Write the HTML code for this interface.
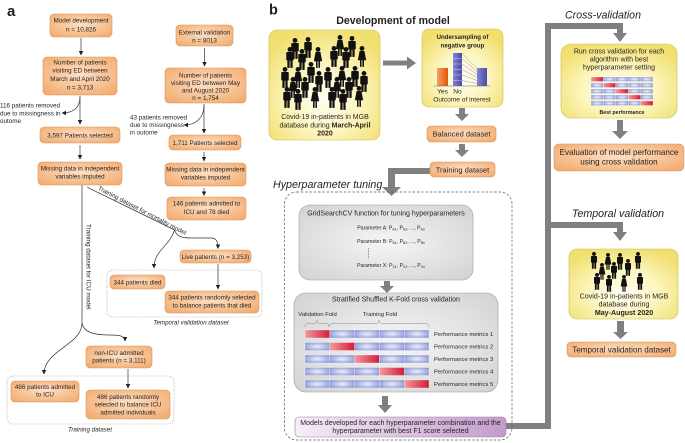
<!DOCTYPE html>
<html><head><meta charset="utf-8"><style>
html,body{margin:0;padding:0;background:#fff;}
svg{display:block;}
text{font-family:"Liberation Sans",Arial,sans-serif;fill:#231f20;}
</style></head><body>
<svg width="685" height="443" viewBox="0 0 685 443" xmlns="http://www.w3.org/2000/svg">
<defs>
<radialGradient id="og" cx="50%" cy="45%" r="65%"><stop offset="0" stop-color="#fde0c4"/><stop offset="1" stop-color="#f3ad72"/></radialGradient>
<radialGradient id="yg" cx="50%" cy="62%" r="65%"><stop offset="0" stop-color="#fffef3"/><stop offset="0.5" stop-color="#fcf5bd"/><stop offset="1" stop-color="#f1df6e"/></radialGradient>
<radialGradient id="gg" cx="50%" cy="50%" r="70%"><stop offset="0" stop-color="#f6f6f6"/><stop offset="1" stop-color="#d2d2d2"/></radialGradient>
<linearGradient id="pg" x1="0" y1="0" x2="1" y2="0"><stop offset="0" stop-color="#f6eef7"/><stop offset="1" stop-color="#c49ccb"/></linearGradient>
<radialGradient id="bl" cx="50%" cy="50%" r="60%"><stop offset="0" stop-color="#eef0fb"/><stop offset="1" stop-color="#8b97d6"/></radialGradient>
<linearGradient id="rd" x1="0" y1="0" x2="1" y2="0"><stop offset="0" stop-color="#f39a9a"/><stop offset="1" stop-color="#d31b3a"/></linearGradient>
<linearGradient id="orb" x1="0" y1="0" x2="1" y2="0"><stop offset="0" stop-color="#f8a060"/><stop offset="1" stop-color="#e2560e"/></linearGradient>
<linearGradient id="blb" x1="0" y1="0" x2="1" y2="0"><stop offset="0" stop-color="#8484d8"/><stop offset="1" stop-color="#4a4aa8"/></linearGradient>
<marker id="ah" viewBox="0 0 10 10" refX="9" refY="5" markerWidth="4.5" markerHeight="4.5" orient="auto" markerUnits="userSpaceOnUse"><path d="M0,0 L10,5 L0,10 z" fill="#231f20"/></marker>
<g id="man"><circle cx="0" cy="2.2" r="2.2"/><path d="M-3.4,5.4 Q-3.4,4.6 -2.6,4.6 H2.6 Q3.4,4.6 3.4,5.4 V12 H2.4 V19 H0.35 V12.5 H-0.35 V19 H-2.4 V12 H-3.4 Z"/></g>
<g id="wom"><circle cx="0" cy="2.2" r="2.2"/><path d="M-2.2,4.6 H2.2 L3.8,13 H1.8 V19 H0.4 V13 H-0.4 V19 H-1.8 V13 H-3.8 Z"/></g>
</defs>

<!-- ================= PANEL A ================= -->
<text x="7" y="16" font-size="15" font-weight="bold">a</text>

<g stroke="#d8955c" stroke-width="0.6" fill="url(#og)">
<rect x="50" y="14" width="62" height="23" rx="4"/>
<rect x="43" y="57" width="74" height="38" rx="4"/>
<rect x="40" y="127" width="80" height="16" rx="4"/>
<rect x="38" y="162" width="84" height="23" rx="4"/>
<rect x="176" y="25" width="57" height="21" rx="4"/>
<rect x="165" y="68" width="81" height="35" rx="4"/>
<rect x="169" y="135" width="72" height="15" rx="4"/>
<rect x="165" y="163" width="81" height="23" rx="4"/>
<rect x="167" y="197" width="79" height="23" rx="4"/>
<rect x="180" y="250" width="71" height="13" rx="4"/>
<rect x="110" y="275" width="55" height="14" rx="4"/>
<rect x="165" y="291" width="94" height="22" rx="4"/>
<rect x="86" y="346" width="66" height="22" rx="4"/>
<rect x="11" y="381" width="68" height="21" rx="4"/>
<rect x="86" y="390" width="84" height="29" rx="4"/>
</g>

<g fill="none" stroke="#999" stroke-width="0.6" stroke-dasharray="1.2,1.2">
<rect x="107" y="270" width="155" height="47" rx="6"/>
<rect x="7" y="376" width="167" height="48" rx="6"/>
</g>

<g font-size="6.3" text-anchor="middle">
<text x="81" y="22.7">Model development</text>
<text x="81" y="31.4">n = 10,826</text>
<text x="80" y="64.4">Number of patients</text>
<text x="80" y="72.7">visiting ED between</text>
<text x="80" y="81">March and April 2020</text>
<text x="80" y="89.3">n = 3,713</text>
<text x="80" y="137.5">3,597 Patients selected</text>
<text x="80" y="170.5">Missing data in independent</text>
<text x="80" y="178.5">variables imputed</text>
<text x="204.5" y="34.5">External validation</text>
<text x="204.5" y="42.7">n = 8013</text>
<text x="205.5" y="77.5">Number of patients</text>
<text x="205.5" y="85">visiting ED between May</text>
<text x="205.5" y="92.5">and August 2020</text>
<text x="205.5" y="100">n = 1,754</text>
<text x="205" y="145">1,711 Patients selected</text>
<text x="205.5" y="171.7">Missing data in independent</text>
<text x="205.5" y="179.7">variables imputed</text>
<text x="206.5" y="205.7">146 patients admitted to</text>
<text x="206.5" y="214">ICU and 78 died</text>
<text x="215.5" y="259">Live patients (n = 3,253)</text>
<text x="137.5" y="284.5">344 patients died</text>
<text x="212" y="299.7">344 patients randomly selected</text>
<text x="212" y="307.5">to balance patients that died</text>
<text x="119" y="355">non-ICU admitted</text>
<text x="119" y="362.7">patients (n = 3,111)</text>
<text x="45" y="389">486 patients admitted</text>
<text x="45" y="396.7">to ICU</text>
<text x="128" y="399">486 patients randomly</text>
<text x="128" y="406.7">selected to balance ICU</text>
<text x="128" y="414.4">admitted individuals</text>
</g>
<g font-size="6.3">
<text x="0" y="107.5">116 patients removed</text>
<text x="0" y="115.3">due to missingness in</text>
<text x="0" y="123">outome</text>
<text x="130" y="119.5">43 patients removed</text>
<text x="130" y="127">due to missingness</text>
<text x="130" y="134.5">in outome</text>
<text transform="translate(97.5,189.5) rotate(27.5)">Training dataset for mortality model</text>
<text transform="translate(86.5,224) rotate(90)">Training dataset for ICU model</text>
</g>
<g font-size="6.2" font-style="italic" text-anchor="middle">
<text x="191" y="324.5">Temporal validation dataset</text>
<text x="90" y="431.7">Training dataset</text>
</g>

<g fill="none" stroke="#333" stroke-width="0.7" marker-end="url(#ah)">
<path d="M81,38 V55"/>
<path d="M80,96 V124"/>
<path d="M80,97 C80,108 73,113 62,113"/>
<path d="M80,145 V159"/>
<path d="M204.5,48 V66"/>
<path d="M204,104 V133"/>
<path d="M204,105 C204,118 196,125 184,125"/>
<path d="M204,152 V161"/>
<path d="M204,188 V195.5"/>
<path d="M174.5,230 C170,246 154,250 154,268"/>
<path d="M174.5,230 C177,237 182,238 192,238 H211 C216,238 218,241 218,248.5"/>
<path d="M218,264 V289"/>
<path d="M82,323 C82,345 44,350 44,374"/>
<path d="M82,323 C84,333 95,335 110,335 C120,335 125,336 125,341"/>
<path d="M128,369 V388"/>
</g>
<g fill="none" stroke="#333" stroke-width="0.7">
<path d="M82,185 V323"/>
<path d="M87.3,187.3 L174.7,230"/>
</g>

<!-- ================= PANEL B ================= -->
<text x="269" y="14.5" font-size="14.5" font-weight="bold">b</text>
<text x="393" y="24" font-size="10.6" font-weight="bold" text-anchor="middle">Development of model</text>
<text x="603" y="18.5" font-size="10.6" font-style="italic" text-anchor="middle">Cross-validation</text>
<text x="273" y="188" font-size="10.7" font-style="italic">Hyperparameter tuning</text>
<text x="618" y="217" font-size="10.7" font-style="italic" text-anchor="middle">Temporal validation</text>

<!-- dev box -->
<rect x="269" y="30" width="111" height="110" rx="8" fill="url(#yg)" stroke="#cbbb5c" stroke-width="0.6"/>
<g fill="#111">
<g transform="translate(295,38) scale(1.1)"><use href="#man"/></g>
<g transform="translate(308,37) scale(1.1)"><use href="#man"/></g>
<g transform="translate(340,35) scale(1.1)"><use href="#wom"/></g>
<g transform="translate(352,36) scale(1.1)"><use href="#man"/></g>
<g transform="translate(290,47) scale(1.1)"><use href="#man"/></g>
<g transform="translate(302,49) scale(1.1)"><use href="#man"/></g>
<g transform="translate(318,47) scale(1.1)"><use href="#wom"/></g>
<g transform="translate(334,46) scale(1.1)"><use href="#man"/></g>
<g transform="translate(346,47) scale(1.1)"><use href="#man"/></g>
<g transform="translate(362,46) scale(1.1)"><use href="#wom"/></g>
<g transform="translate(285,67) scale(1.1)"><use href="#man"/></g>
<g transform="translate(298,67) scale(1.1)"><use href="#wom"/></g>
<g transform="translate(311,62) scale(1.1)"><use href="#man"/></g>
<g transform="translate(328,67) scale(1.1)"><use href="#man"/></g>
<g transform="translate(342,66) scale(1.1)"><use href="#wom"/></g>
<g transform="translate(355,66) scale(1.1)"><use href="#man"/></g>
<g transform="translate(364,71) scale(1.1)"><use href="#man"/></g>
<g transform="translate(293,77) scale(1.1)"><use href="#wom"/></g>
<g transform="translate(305,77) scale(1.1)"><use href="#man"/></g>
<g transform="translate(319,71) scale(1.1)"><use href="#man"/></g>
<g transform="translate(337,77) scale(1.1)"><use href="#wom"/></g>
<g transform="translate(349,77) scale(1.1)"><use href="#man"/></g>
<g transform="translate(287,87) scale(1.1)"><use href="#man"/></g>
<g transform="translate(298,89) scale(1.1)"><use href="#man"/></g>
<g transform="translate(315,87) scale(1.1)"><use href="#wom"/></g>
<g transform="translate(332,87) scale(1.1)"><use href="#man"/></g>
<g transform="translate(343,89) scale(1.1)"><use href="#man"/></g>
<g transform="translate(359,86) scale(1.1)"><use href="#wom"/></g>
</g>
<g font-size="7" text-anchor="middle">
<text x="325" y="119">Covid-19 in-patients in MGB</text>
<text x="325" y="127.3">database during <tspan font-weight="bold">March-April</tspan></text>
<text x="325" y="135.6" font-weight="bold">2020</text>
</g>

<!-- undersampling box -->
<rect x="422" y="29" width="81" height="78" rx="7" fill="url(#yg)" stroke="#cbbb5c" stroke-width="0.6"/>
<g font-size="6.1" font-weight="bold" text-anchor="middle">
<text x="462.5" y="39">Undersampling of</text>
<text x="462.5" y="47.3">negative group</text>
</g>
<rect x="437" y="68" width="11" height="18" fill="url(#orb)"/>
<rect x="453" y="53" width="9" height="33" fill="url(#blb)"/>
<rect x="477" y="68" width="10" height="18" fill="url(#blb)"/>
<g stroke="#ffffff" stroke-width="0.4" opacity="0.8">
<path d="M453,58.5 H462 M453,64 H462 M453,69.5 H462 M453,75 H462 M453,80.5 H462"/>
</g>
<g stroke="#8a8aa8" stroke-width="0.45" fill="none">
<path d="M462,53.5 L477,68.5 M462,58.5 L477,71.5 M462,64 L477,74.5 M462,69.5 L477,77.5 M462,75 L477,80.5 M462,80.5 L477,83.5"/>
</g>
<path d="M434,86 H490" stroke="#666" stroke-width="0.5"/>
<g font-size="6.6" text-anchor="middle">
<text x="442.5" y="93.5">Yes</text>
<text x="457.5" y="93.5">No</text>
<text x="462" y="101.5">Outcome of interest</text>
</g>

<!-- gray arrows -->
<g fill="#808080">
<path d="M383,60.5 H407 V56.5 L416,63 L407,69.5 V65.5 H383 Z"/>
<path d="M459,108 H465 V114 H469 L462,121 L455,114 H459 Z"/>
<path d="M459,144 H465 V150 H469 L462,157 L455,150 H459 Z"/>
<path d="M430,168 H388 V187 H382 L391.5,196 L401,187 H395 V174 H430 Z"/>
<path d="M384,281 H390 V286 H394 L387,293 L380,286 H384 Z"/>
<path d="M382,396 H388 V405 H392 L385,413 L378,405 H382 Z"/>
<path d="M506,423 H545 V23 H623 V33 H627 L620,42 L613,33 H617 V29 H551 V222 H623 V232 H627 L620,241 L613,232 H617 V228 H551 V429 H506 Z"/>
<path d="M617,120 H623 V131 H628 L620,139 L612,131 H617 Z"/>
<path d="M617,321 H624 V332 H628 L620.5,339 L613,332 H617 Z"/>
</g>

<!-- balanced / training -->
<g stroke="#d8955c" stroke-width="0.6" fill="url(#og)">
<rect x="427" y="126" width="69" height="16" rx="4"/>
<rect x="430" y="162" width="65" height="15" rx="4"/>
<rect x="554" y="144" width="130" height="27" rx="5"/>
<rect x="567" y="342" width="109" height="15" rx="4"/>
</g>
<g font-size="7.5" text-anchor="middle">
<text x="461.5" y="136.5">Balanced dataset</text>
<text x="462.5" y="172.3">Training dataset</text>
</g>
<g font-size="8.1" text-anchor="middle">
<text x="619" y="155.2">Evaluation of model performance</text>
<text x="619" y="164.4">using cross validation</text>
<text x="621.5" y="352.6">Temporal validation dataset</text>
</g>

<!-- hyperparameter dashed box -->
<rect x="284.5" y="192" width="227.5" height="248" rx="12" fill="none" stroke="#555" stroke-width="0.7" stroke-dasharray="2.5,1.8"/>

<!-- GridSearch box -->
<rect x="299" y="205" width="174" height="75" rx="11" fill="url(#gg)" stroke="#9c9c9c" stroke-width="0.6"/>
<text x="386" y="215.5" font-size="7" text-anchor="middle">GridSearchCV function for tuning hyperparameters</text>
<g font-size="5.2" text-anchor="middle">
<text x="391" y="229.5">Parameter A: P<tspan font-size="3.4" dy="1.2">A1</tspan><tspan dy="-1.2">, P</tspan><tspan font-size="3.4" dy="1.2">A2</tspan><tspan dy="-1.2">, ..., P</tspan><tspan font-size="3.4" dy="1.2">An</tspan></text>
<text x="391" y="243">Parameter B: P<tspan font-size="3.4" dy="1.2">B1</tspan><tspan dy="-1.2">, P</tspan><tspan font-size="3.4" dy="1.2">B2</tspan><tspan dy="-1.2">, ..., P</tspan><tspan font-size="3.4" dy="1.2">Bn</tspan></text>
<text x="391" y="267">Parameter X: P<tspan font-size="3.4" dy="1.2">X1</tspan><tspan dy="-1.2">, P</tspan><tspan font-size="3.4" dy="1.2">X2</tspan><tspan dy="-1.2">, ..., P</tspan><tspan font-size="3.4" dy="1.2">Xn</tspan></text>
</g>
<path d="M368.5,248 V259" stroke="#666" stroke-width="0.8" stroke-dasharray="0.8,0.8"/>

<!-- Stratified box -->
<rect x="294" y="293" width="204" height="99" rx="12" fill="url(#gg)" stroke="#9c9c9c" stroke-width="0.6"/>
<text x="396" y="301.5" font-size="7" text-anchor="middle">Stratified Shuffled K-Fold cross validation</text>
<g font-size="5.9" text-anchor="middle">
<text x="317.5" y="316">Validation Fold</text>
<text x="380" y="316">Training Fold</text>
</g>
<g fill="none" stroke="#888" stroke-width="0.5">
<path d="M305,327 Q305,323.5 308,323.5 H314.5 Q317,323.5 317,320 Q317,323.5 319.5,323.5 H326 Q329,323.5 329,327"/>
<path d="M329,327 Q329,323.5 333,323.5 H376 Q379,323.5 379,320 Q379,323.5 382,323.5 H426 Q429,323.5 429,327"/>
</g>
<g stroke="#ffffff" stroke-width="0.3">
<rect x="305" y="330" width="24.8" height="8" fill="url(#rd)"/><rect x="329.8" y="330" width="24.8" height="8" fill="url(#bl)"/><rect x="354.6" y="330" width="24.8" height="8" fill="url(#bl)"/><rect x="379.4" y="330" width="24.8" height="8" fill="url(#bl)"/><rect x="404.2" y="330" width="24.8" height="8" fill="url(#bl)"/>
<rect x="305" y="342.5" width="24.8" height="8" fill="url(#bl)"/><rect x="329.8" y="342.5" width="24.8" height="8" fill="url(#rd)"/><rect x="354.6" y="342.5" width="24.8" height="8" fill="url(#bl)"/><rect x="379.4" y="342.5" width="24.8" height="8" fill="url(#bl)"/><rect x="404.2" y="342.5" width="24.8" height="8" fill="url(#bl)"/>
<rect x="305" y="355" width="24.8" height="8" fill="url(#bl)"/><rect x="329.8" y="355" width="24.8" height="8" fill="url(#bl)"/><rect x="354.6" y="355" width="24.8" height="8" fill="url(#rd)"/><rect x="379.4" y="355" width="24.8" height="8" fill="url(#bl)"/><rect x="404.2" y="355" width="24.8" height="8" fill="url(#bl)"/>
<rect x="305" y="367.5" width="24.8" height="8" fill="url(#bl)"/><rect x="329.8" y="367.5" width="24.8" height="8" fill="url(#bl)"/><rect x="354.6" y="367.5" width="24.8" height="8" fill="url(#bl)"/><rect x="379.4" y="367.5" width="24.8" height="8" fill="url(#rd)"/><rect x="404.2" y="367.5" width="24.8" height="8" fill="url(#bl)"/>
<rect x="305" y="380" width="24.8" height="8" fill="url(#bl)"/><rect x="329.8" y="380" width="24.8" height="8" fill="url(#bl)"/><rect x="354.6" y="380" width="24.8" height="8" fill="url(#bl)"/><rect x="379.4" y="380" width="24.8" height="8" fill="url(#bl)"/><rect x="404.2" y="380" width="24.8" height="8" fill="url(#rd)"/>
</g>
<g font-size="5.9">
<text x="434" y="336.2">Performance metrics 1</text>
<text x="434" y="348.7">Performance metrics 2</text>
<text x="434" y="361.2">Performance metrics 3</text>
<text x="434" y="373.7">Performance metrics 4</text>
<text x="434" y="386.2">Performance metrics 5</text>
</g>

<!-- purple box -->
<rect x="295" y="417" width="211" height="20" rx="4" fill="url(#pg)" stroke="#9d7aa6" stroke-width="0.6"/>
<g font-size="7" text-anchor="middle">
<text x="400.5" y="425.2">Models developed for each hyperparameter combination and the</text>
<text x="400.5" y="432.8">hyperparameter with best F1 score selected</text>
</g>

<!-- cross-validation box -->
<rect x="561" y="44" width="116" height="74" rx="10" fill="url(#yg)" stroke="#cbbb5c" stroke-width="0.6"/>
<g font-size="7" text-anchor="middle">
<text x="619" y="53.5">Run cross validation for each</text>
<text x="619" y="61.5">algorithm with best</text>
<text x="619" y="69.5">hyperparameter setting</text>
</g>
<g stroke="#ffffff" stroke-width="0.25">
<rect x="591" y="77" width="12.4" height="4.5" fill="url(#rd)"/><rect x="603.4" y="77" width="12.4" height="4.5" fill="url(#bl)"/><rect x="615.8" y="77" width="12.4" height="4.5" fill="url(#bl)"/><rect x="628.2" y="77" width="12.4" height="4.5" fill="url(#bl)"/><rect x="640.6" y="77" width="12.4" height="4.5" fill="url(#bl)"/>
<rect x="591" y="83" width="12.4" height="4.5" fill="url(#bl)"/><rect x="603.4" y="83" width="12.4" height="4.5" fill="url(#rd)"/><rect x="615.8" y="83" width="12.4" height="4.5" fill="url(#bl)"/><rect x="628.2" y="83" width="12.4" height="4.5" fill="url(#bl)"/><rect x="640.6" y="83" width="12.4" height="4.5" fill="url(#bl)"/>
<rect x="591" y="89" width="12.4" height="4.5" fill="url(#bl)"/><rect x="603.4" y="89" width="12.4" height="4.5" fill="url(#bl)"/><rect x="615.8" y="89" width="12.4" height="4.5" fill="url(#rd)"/><rect x="628.2" y="89" width="12.4" height="4.5" fill="url(#bl)"/><rect x="640.6" y="89" width="12.4" height="4.5" fill="url(#bl)"/>
<rect x="591" y="95" width="12.4" height="4.5" fill="url(#bl)"/><rect x="603.4" y="95" width="12.4" height="4.5" fill="url(#bl)"/><rect x="615.8" y="95" width="12.4" height="4.5" fill="url(#bl)"/><rect x="628.2" y="95" width="12.4" height="4.5" fill="url(#rd)"/><rect x="640.6" y="95" width="12.4" height="4.5" fill="url(#bl)"/>
<rect x="591" y="101" width="12.4" height="4.5" fill="url(#bl)"/><rect x="603.4" y="101" width="12.4" height="4.5" fill="url(#bl)"/><rect x="615.8" y="101" width="12.4" height="4.5" fill="url(#bl)"/><rect x="628.2" y="101" width="12.4" height="4.5" fill="url(#bl)"/><rect x="640.6" y="101" width="12.4" height="4.5" fill="url(#rd)"/>
</g>
<text x="622" y="114" font-size="5.3" font-weight="bold" text-anchor="middle">Best performance</text>

<!-- temporal box -->
<rect x="569" y="249" width="109" height="70" rx="8" fill="url(#yg)" stroke="#cbbb5c" stroke-width="0.6"/>
<g fill="#111">
<g transform="translate(594,252) scale(0.88)"><use href="#man"/></g>
<g transform="translate(608,253) scale(0.88)"><use href="#wom"/></g>
<g transform="translate(620,253) scale(0.88)"><use href="#man"/></g>
<g transform="translate(638,252) scale(0.88)"><use href="#man"/></g>
<g transform="translate(602,263) scale(0.88)"><use href="#wom"/></g>
<g transform="translate(614,262) scale(0.88)"><use href="#man"/></g>
<g transform="translate(628,259) scale(0.88)"><use href="#man"/></g>
<g transform="translate(597,273) scale(0.88)"><use href="#man"/></g>
<g transform="translate(609,275) scale(0.88)"><use href="#man"/></g>
<g transform="translate(624,275) scale(0.88)"><use href="#wom"/></g>
<g transform="translate(640,273) scale(0.88)"><use href="#man"/></g>
</g>
<g font-size="7.1" text-anchor="middle">
<text x="624" y="298.5">Covid-19 in-patients in MGB</text>
<text x="624" y="306.5">database during</text>
<text x="624" y="314.8" font-weight="bold">May-August 2020</text>
</g>
</svg>
</body></html>
